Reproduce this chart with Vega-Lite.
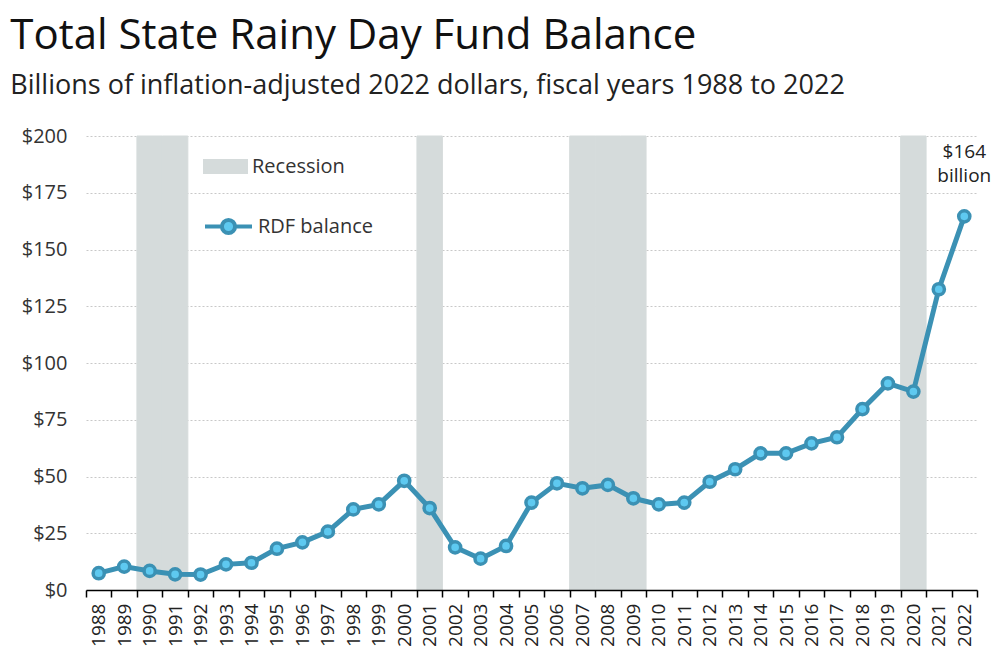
{
  "$schema": "https://vega.github.io/schema/vega-lite/v6.json",
  "width": 891,
  "height": 454,
  "padding": {"left": 10, "top": 15, "right": 0, "bottom": 0},
  "config": {
    "font": "Open Sans",
    "view": {"stroke": null},
    "legend": {"padding": 0, "labelFontSize": 20, "labelColor": "#333333", "labelFont": "Open Sans"}
  },
  "title": {
    "text": "Total State Rainy Day Fund Balance",
    "subtitle": "Billions of inflation-adjusted  2022 dollars, fiscal years 1988 to 2022",
    "anchor": "start",
    "frame": "bounds",
    "dx": -11,
    "fontSize": 42,
    "fontWeight": "normal",
    "color": "#111111",
    "subtitleFontSize": 27,
    "subtitleColor": "#222222",
    "subtitlePadding": 15,
    "offset": 26
  },
  "layer": [
    {
      "data": {"values": [
        {"year": 1990, "label": "Recession"},
        {"year": 1991, "label": "Recession"},
        {"year": 2001, "label": "Recession"},
        {"year": 2007, "label": "Recession"},
        {"year": 2008, "label": "Recession"},
        {"year": 2009, "label": "Recession"},
        {"year": 2020, "label": "Recession"}
      ]},
      "mark": {"type": "rect", "stroke": "#d5dbdb", "strokeWidth": 1},
      "encoding": {
        "x": {"field": "year", "type": "ordinal"},
        "y": {"datum": 0, "type": "quantitative"},
        "y2": {"datum": 200},
        "fill": {
          "field": "label", "type": "nominal",
          "scale": {"domain": ["Recession"], "range": ["#d5dbdb"]},
          "legend": {
            "title": null, "orient": "none", "legendX": 117, "legendY": 8,
            "symbolType": "M-1,-0.33H1V0.33H-1Z", "symbolSize": 2025, "symbolStrokeWidth": 0,
            "labelOffset": 4
          }
        }
      }
    },
    {
      "data": {"name": "rdf", "values": [
        {"year": 1988, "balance": 7.4},
        {"year": 1989, "balance": 10.3},
        {"year": 1990, "balance": 8.4},
        {"year": 1991, "balance": 6.9},
        {"year": 1992, "balance": 6.8},
        {"year": 1993, "balance": 11.3},
        {"year": 1994, "balance": 12.0},
        {"year": 1995, "balance": 18.2},
        {"year": 1996, "balance": 21.0},
        {"year": 1997, "balance": 25.7},
        {"year": 1998, "balance": 35.5},
        {"year": 1999, "balance": 37.7},
        {"year": 2000, "balance": 48.1},
        {"year": 2001, "balance": 36.1},
        {"year": 2002, "balance": 18.8},
        {"year": 2003, "balance": 13.8},
        {"year": 2004, "balance": 19.4},
        {"year": 2005, "balance": 38.5},
        {"year": 2006, "balance": 47.0},
        {"year": 2007, "balance": 44.8},
        {"year": 2008, "balance": 46.3},
        {"year": 2009, "balance": 40.4},
        {"year": 2010, "balance": 37.7},
        {"year": 2011, "balance": 38.5},
        {"year": 2012, "balance": 47.7},
        {"year": 2013, "balance": 53.2},
        {"year": 2014, "balance": 60.2},
        {"year": 2015, "balance": 60.2},
        {"year": 2016, "balance": 64.6},
        {"year": 2017, "balance": 67.3},
        {"year": 2018, "balance": 79.7},
        {"year": 2019, "balance": 91.0},
        {"year": 2020, "balance": 87.4},
        {"year": 2021, "balance": 132.5},
        {"year": 2022, "balance": 164.6}
      ]},
      "layer": [
        {
          "mark": {"type": "line", "strokeWidth": 5},
          "encoding": {
            "x": {"field": "year", "type": "ordinal"},
            "y": {"field": "balance", "type": "quantitative"},
            "stroke": {
              "datum": "RDF balance", "type": "nominal",
              "scale": {"domain": ["RDF balance"], "range": ["#3b91b4"]},
              "legend": {
                "title": null, "orient": "none", "legendX": 117, "legendY": 65,
                "symbolType": "M-1,0H-0.28M0.28,0H1M-0.28,0A0.28,0.28 0 1,1 0.28,0A0.28,0.28 0 1,1 -0.28,0",
                "symbolSize": 2209, "symbolStrokeWidth": 4, "symbolFillColor": "#5ec9f0",
                "labelOffset": 4,
                "encode": {"symbols": {"update": {"fill": {"value": "#5ec9f0"}, "strokeWidth": {"value": 4}}}}
              }
            }
          }
        },
        {
          "mark": {"type": "point", "filled": false, "fill": "#5ec9f0", "fillOpacity": 1, "stroke": "#3b91b4", "strokeWidth": 3.5, "size": 125, "opacity": 1},
          "encoding": {
            "x": {"field": "year", "type": "ordinal"},
            "y": {"field": "balance", "type": "quantitative"}
          }
        }
      ]
    },
    {
      "data": {"values": [{"year": 2022, "balance": 164.6, "note": "$164\nbillion"}]},
      "mark": {"type": "text", "lineBreak": "\n", "baseline": "alphabetic", "align": "center", "dy": -58, "fontSize": 19, "lineHeight": 24, "color": "#222222"},
      "encoding": {
        "x": {"field": "year", "type": "ordinal"},
        "y": {"field": "balance", "type": "quantitative"},
        "text": {"field": "note"}
      }
    }
  ],
  "encoding": {
    "x": {
      "field": "year", "type": "ordinal", "title": null,
      "scale": {"paddingInner": 0, "paddingOuter": 0},
      "axis": {
        "tickBand": "extent", "labelAngle": 270, "labelAlign": "right", "labelBaseline": "middle",
        "labelFontSize": 19, "labelColor": "#222222", "labelPadding": 6,
        "domainColor": "#000000", "domainWidth": 1.5, "tickColor": "#000000", "tickWidth": 1.5, "tickSize": 7,
        "grid": false
      }
    },
    "y": {
      "type": "quantitative", "title": null,
      "scale": {"domain": [0, 200], "nice": false},
      "axis": {
        "values": [0, 25, 50, 75, 100, 125, 150, 175, 200], "format": "$,.0f",
        "labelFontSize": 20, "labelColor": "#333333", "labelPadding": 19,
        "domain": false, "ticks": false,
        "grid": true, "gridDash": [2, 2], "gridColor": "#c8c8c8", "gridWidth": 1
      }
    }
  }
}
